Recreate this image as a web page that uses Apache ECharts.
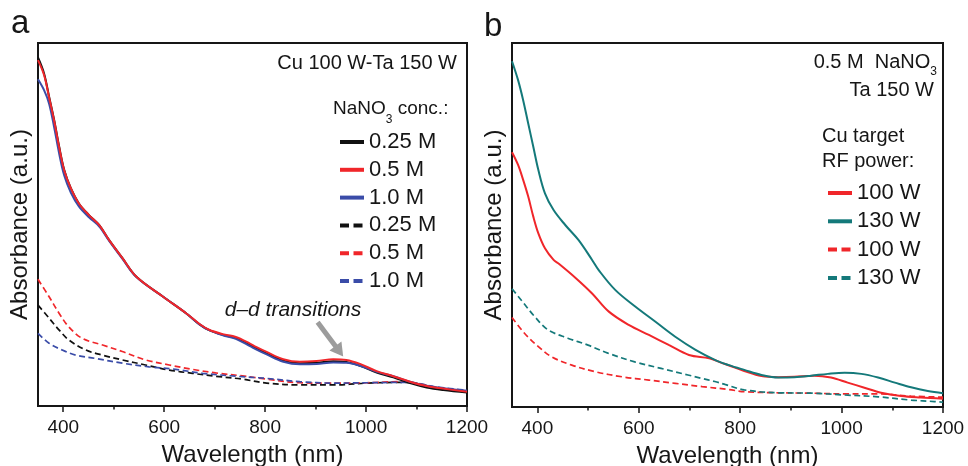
<!DOCTYPE html>
<html><head><meta charset="utf-8">
<script src="https://cdn.jsdelivr.net/npm/echarts@6/dist/echarts.min.js"></script>
<style>html,body{margin:0;padding:0;background:#fff}#c{width:968px;height:466px}</style>
</head><body><div id="c"></div>
<script>
// ---- tick values ----
const xTicksMajor = [400, 600, 800, 1000, 1200];
const xTicksMinor = [500, 700, 900, 1100];

// ---- panel a: NaNO3 concentration series [wavelength nm, absorbance a.u.] ----
const aLabels = ['0.25 M', '0.5 M', '1.0 M', '0.25 M', '0.5 M', '1.0 M'];
const aBlackSolid = [[350,96.0],[362,91.6],[372,85.2],[382,78.8],[392,71.4],[402,65.0],[415,60.0],[431,55.8],[451,52.6],[471,49.9],[491,45.7],[517,40.8],[545,35.6],[598,30.1],[644,25.5],[670,22.5],[689,20.9],[716,19.6],[742,18.7],[770,16.8],[782,15.9],[803,14.5],[836,12.5],[869,11.8],[902,11.9],[935,12.3],[961,12.1],[988,11.1],[1021,9.2],[1054,7.9],[1087,6.3],[1120,5.1],[1153,4.4],[1200,3.7]];
const aRedSolid = [[350,95.3],[362,91.2],[372,85.0],[382,78.6],[392,71.2],[402,64.9],[415,60.0],[431,55.8],[451,52.6],[471,49.9],[491,45.7],[517,40.8],[545,35.6],[598,30.1],[644,25.5],[670,22.6],[689,21.0],[716,19.8],[742,19.0],[770,17.2],[782,16.3],[803,14.9],[836,12.9],[869,12.2],[902,12.4],[935,12.9],[961,12.7],[988,11.6],[1021,9.6],[1054,8.2],[1087,6.7],[1120,5.5],[1153,4.8],[1200,3.9]];
const aBlueSolid = [[350,90.0],[362,87.0],[372,83.3],[382,76.8],[392,69.5],[402,63.5],[415,58.8],[431,55.0],[451,52.0],[471,49.5],[491,45.5],[517,40.6],[545,35.5],[598,30.1],[644,25.5],[670,22.5],[689,20.9],[716,19.5],[742,18.5],[770,16.5],[782,15.6],[803,14.2],[836,12.2],[869,11.5],[902,11.6],[935,12.0],[961,11.9],[988,11.1],[1021,9.4],[1054,8.2],[1087,6.7],[1120,5.6],[1153,4.9],[1200,4.2]];
const aBlackDash = [[350,27.8],[372,24.2],[392,20.9],[411,18.2],[445,15.4],[478,14.0],[517,12.7],[563,11.3],[610,9.9],[656,9.0],[702,8.2],[755,7.4],[803,6.3],[869,5.8],[935,5.8],[1001,6.3],[1067,6.5],[1100,6.2],[1133,5.2],[1200,4.0]];
const aRedDash = [[350,34.9],[372,30.1],[392,25.5],[411,21.8],[438,18.6],[478,16.8],[517,15.0],[563,12.7],[610,11.3],[656,10.1],[702,9.1],[755,8.3],[803,7.4],[869,6.4],[935,6.3],[1001,6.4],[1067,6.7],[1100,6.3],[1133,5.3],[1200,4.2]];
const aBlueDash = [[350,20.0],[372,17.3],[398,15.4],[425,14.0],[464,13.1],[517,11.8],[570,10.8],[623,10.1],[676,9.0],[742,8.2],[803,7.6],[869,6.7],[935,6.3],[1001,6.4],[1067,6.5],[1100,6.3],[1133,5.4],[1200,4.3]];

// ---- panel b: Cu target RF power series ----
const bLabels = ['100 W', '130 W', '100 W', '130 W'];
const bRedSolid = [[350,70.0],[362,66.5],[372,62.4],[382,57.8],[392,52.3],[402,47.7],[415,43.6],[432,40.4],[443,39.3],[476,35.4],[508,31.2],[541,26.2],[581,22.5],[620,19.8],[660,17.0],[699,14.3],[739,13.4],[762,12.2],[778,11.4],[808,9.9],[842,8.5],[875,8.2],[907,8.3],[946,8.6],[979,8.1],[1012,6.7],[1045,5.3],[1078,3.9],[1117,3.0],[1156,2.6],[1200,2.3]];
const bTealSolid = [[350,95.0],[362,89.8],[372,84.3],[382,77.9],[392,71.5],[402,65.1],[415,58.7],[432,54.1],[455,50.0],[481,45.9],[508,40.4],[521,37.6],[554,32.1],[593,27.6],[633,23.4],[672,19.3],[712,15.7],[751,12.9],[778,11.5],[808,10.2],[842,8.8],[875,8.1],[907,8.2],[940,8.6],[973,9.1],[1006,9.4],[1039,9.1],[1072,8.1],[1105,6.7],[1137,5.4],[1170,4.4],[1200,3.8]];
const bRedDash = [[350,24.6],[375,20.2],[402,16.6],[428,13.8],[468,11.5],[514,9.7],[567,8.3],[620,7.4],[672,6.5],[725,5.6],[778,4.8],[808,4.2],[875,3.9],[940,3.8],[1006,3.6],[1072,3.6],[1137,3.0],[1200,2.7]];
const bTealDash = [[350,32.5],[368,29.4],[395,24.8],[421,21.2],[460,18.9],[500,17.0],[539,14.8],[592,12.4],[644,10.6],[697,8.8],[723,7.9],[750,7.0],[770,6.2],[808,4.7],[875,3.9],[940,3.8],[1006,3.3],[1072,2.8],[1137,1.9],[1183,1.5],[1200,1.3]];

// annotation arrow (data coords, panel a)
const arrowFrom = [904, 23.1];
const arrowTo = [947, 15.1];

const FONT = '"Liberation Sans", Arial, Helvetica, sans-serif';
const INK = '#161616';
const C_BLACK = '#111111', C_RED = '#f0262a', C_BLUE = '#3a4ca8', C_TEAL = '#14797a';

const chart = echarts.init(document.getElementById('c'), null, {renderer: 'canvas'});

function xAxisMain(gridIndex) {
  return {
    type: 'value', gridIndex, min: 350, max: 1200,
    axisLine: {show: true, onZero: false, lineStyle: {color: INK, width: 2}},
    axisTick: {show: true, customValues: xTicksMajor, length: 6, lineStyle: {color: INK, width: 1.5}},
    axisLabel: {show: true, customValues: xTicksMajor, formatter: v => String(v), fontSize: 19, margin: 12, color: INK, fontFamily: FONT},
    splitLine: {show: false},
    name: 'Wavelength (nm)', nameLocation: 'middle', nameGap: 37,
    nameTextStyle: {fontSize: 24, color: INK, fontFamily: FONT}
  };
}
function xAxisMinor(gridIndex) {
  return {
    type: 'value', gridIndex, min: 350, max: 1200,
    axisLine: {show: false},
    axisTick: {show: true, customValues: xTicksMinor, length: 3.5, lineStyle: {color: INK, width: 1.5}},
    axisLabel: {show: false}, splitLine: {show: false}
  };
}
function yAxisMain(gridIndex, named) {
  return {
    type: 'value', gridIndex, min: 0, max: 100,
    axisLine: {show: false}, axisTick: {show: false}, axisLabel: {show: false}, splitLine: {show: false},
    name: named ? 'Absorbance (a.u.)' : '', nameLocation: 'middle', nameGap: 6,
    nameTextStyle: {fontSize: 24, color: INK, fontFamily: FONT}
  };
}

function line(name, data, color, dashed, xi, yi, extra) {
  return Object.assign({
    type: 'line', name, data, xAxisIndex: xi, yAxisIndex: yi,
    symbol: 'none', showSymbol: false, smooth: 0.35, silent: true,
    lineStyle: {color, width: dashed ? 1.7 : 2, type: dashed ? [6, 3.5] : 'solid'},
    itemStyle: {color}
  }, extra || {});
}

const aNames = ['a1','a2','a3','a4','a5','a6'];
const bNames = ['b1','b2','b3','b4'];
const nameMap = {};
aNames.forEach((n, i) => nameMap[n] = aLabels[i]);
bNames.forEach((n, i) => nameMap[n] = bLabels[i]);

function legendData(names, dashedFrom) {
  return names.map((n, i) => ({
    name: n,
    lineStyle: {width: 4, type: i >= dashedFrom ? [9, 4.5] : 'solid'},
    itemStyle: {opacity: 0}
  }));
}

const gridBase = {outerBoundsMode: 'none', containLabel: false};

const option = {
  animation: false,
  backgroundColor: '#ffffff',
  textStyle: {fontFamily: FONT},
  grid: [
    Object.assign({left: 38, top: 43, width: 429, height: 363, show: true, borderColor: INK, borderWidth: 2, backgroundColor: 'transparent'}, gridBase),
    Object.assign({left: 512, top: 43, width: 431, height: 364, show: true, borderColor: INK, borderWidth: 2, backgroundColor: 'transparent'}, gridBase),
    Object.assign({left: 38, top: 43, width: 429, height: 363}, gridBase),
    Object.assign({left: 512, top: 43, width: 431, height: 364}, gridBase)
  ],
  xAxis: [xAxisMain(0), xAxisMain(1), xAxisMinor(2), xAxisMinor(3)],
  yAxis: [yAxisMain(0, true), yAxisMain(1, true), yAxisMain(2, false), yAxisMain(3, false)],
  legend: [
    {
      orient: 'vertical', left: 333, top: 126, itemWidth: 24, itemHeight: 14, itemGap: 5.8,
      selectedMode: false, data: legendData(aNames, 3),
      formatter: n => nameMap[n],
      textStyle: {fontSize: 22, lineHeight: 22, color: INK, fontFamily: FONT}
    },
    {
      orient: 'vertical', left: 821, top: 177, itemWidth: 24, itemHeight: 14, itemGap: 6.3,
      selectedMode: false, data: legendData(bNames, 2),
      formatter: n => nameMap[n],
      textStyle: {fontSize: 22, lineHeight: 22, color: INK, fontFamily: FONT}
    }
  ],
  series: [
    line('a4', aBlackDash, C_BLACK, true, 0, 0),
    line('a5', aRedDash, C_RED, true, 0, 0),
    line('a6', aBlueDash, C_BLUE, true, 0, 0),
    line('a1', aBlackSolid, C_BLACK, false, 0, 0),
    line('a3', aBlueSolid, C_BLUE, false, 0, 0),
    line('a2', aRedSolid, C_RED, false, 0, 0, {
      markLine: {
        silent: true, animation: false,
        symbol: ['none', 'triangle'], symbolSize: [15, 13],
        lineStyle: {color: '#9c9c9c', width: 5, type: 'solid'},
        label: {show: false}, emphasis: {disabled: true},
        data: [[{coord: arrowFrom}, {coord: arrowTo}]]
      }
    }),
    line('b3', bRedDash, C_RED, true, 1, 1),
    line('b4', bTealDash, C_TEAL, true, 1, 1),
    line('b1', bRedSolid, C_RED, false, 1, 1),
    line('b2', bTealSolid, C_TEAL, false, 1, 1)
  ],
  graphic: [
    {type: 'text', x: 11, y: 24, style: {text: 'a', fontSize: 33, fontFamily: FONT, fill: INK, align: 'left', verticalAlign: 'middle'}},
    {type: 'text', x: 484, y: 27, style: {text: 'b', fontSize: 33, fontFamily: FONT, fill: INK, align: 'left', verticalAlign: 'middle'}},
    {type: 'text', x: 457, y: 63, style: {text: 'Cu 100 W-Ta 150 W', fontSize: 20, fontFamily: FONT, fill: INK, align: 'right', verticalAlign: 'middle'}},
    {type: 'text', x: 333, y: 109, style: {
      text: '{n|NaNO}{s|3}{n| conc.:}', fontFamily: FONT, fill: INK, align: 'left', verticalAlign: 'middle',
      rich: {n: {fontSize: 19, fontFamily: FONT, fill: INK, verticalAlign: 'middle'},
             s: {fontSize: 12, fontFamily: FONT, fill: INK, verticalAlign: 'bottom', padding: [22, 0, 0, 0]}}
    }},
    {type: 'text', x: 293, y: 310, style: {text: 'd\u2013d transitions', fontSize: 21, fontStyle: 'italic', fontFamily: FONT, fill: INK, align: 'center', verticalAlign: 'middle'}},
    {type: 'text', x: 937, y: 62, style: {
      text: '{n|0.5 M  NaNO}{s|3}', fontFamily: FONT, fill: INK, align: 'right', verticalAlign: 'middle',
      rich: {n: {fontSize: 20, fontFamily: FONT, fill: INK, verticalAlign: 'middle'},
             s: {fontSize: 12, fontFamily: FONT, fill: INK, verticalAlign: 'bottom', padding: [20, 0, 0, 0]}}
    }},
    {type: 'text', x: 934, y: 90, style: {text: 'Ta 150 W', fontSize: 20, fontFamily: FONT, fill: INK, align: 'right', verticalAlign: 'middle'}},
    {type: 'text', x: 822, y: 136, style: {text: 'Cu target', fontSize: 20, fontFamily: FONT, fill: INK, align: 'left', verticalAlign: 'middle'}},
    {type: 'text', x: 822, y: 161, style: {text: 'RF power:', fontSize: 20, fontFamily: FONT, fill: INK, align: 'left', verticalAlign: 'middle'}}
  ]
};
chart.setOption(option);
</script>
</body></html>
